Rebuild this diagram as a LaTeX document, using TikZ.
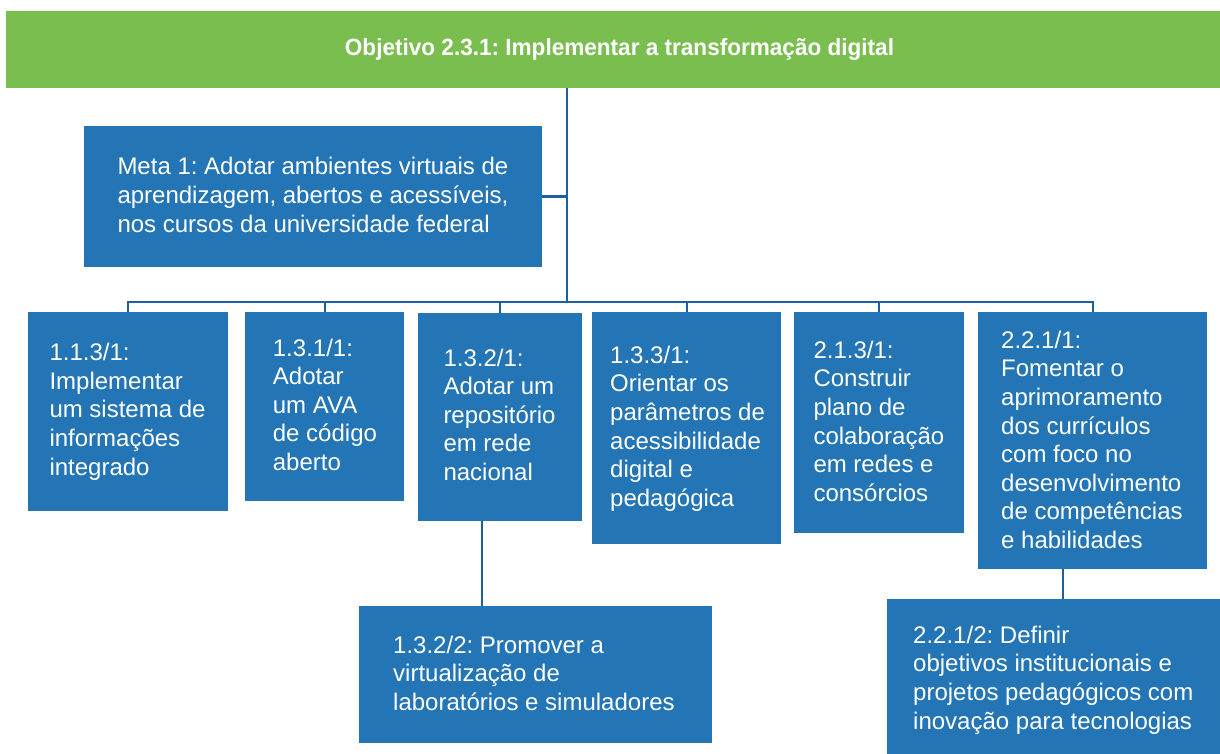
\documentclass[tikz,border=0pt]{standalone}
\usepackage{fontspec}
\setmainfont{Liberation Sans}
\newfontfamily\titlefont[FakeStretch=0.96]{Liberation Sans}
\definecolor{hdrgreen}{HTML}{7ABE50}
\definecolor{boxblue}{HTML}{2375B5}
\definecolor{linkblue}{HTML}{1D5FA0}
\newcommand{\tb}[1]{\parbox[t]{400pt}{\raggedright #1}}
\frenchspacing
\begin{document}
\begin{tikzpicture}[x=1pt,y=-1pt,
  box/.style={fill=boxblue, draw=none, inner sep=0pt, anchor=north west},
  txt/.style={text=white, inner sep=0pt, anchor=base west, font=\fontsize{24}{28.6}\selectfont},
  link/.style={draw=linkblue, line width=2.4pt}]
\useasboundingbox (0,0) rectangle (1220,754);
\fill[white] (0,0) rectangle (1220,754);
\node[fill=hdrgreen, inner sep=0pt, anchor=north west, minimum width=1214, minimum height=77] (hdr) at (6,11) {};
\node[text=white, font=\titlefont\bfseries\fontsize{23.5}{28}\selectfont, anchor=base, inner sep=0pt] (hdrt) at (619.5,56) {Objetivo 2.3.1: Implementar a transformação digital};

\node[box, minimum width=458, minimum height=141] (meta) at (84,126) {};
\node[box, minimum width=200, minimum height=199] (b1) at (28,312) {};
\node[box, minimum width=159, minimum height=189] (b2) at (245,312) {};
\node[box, minimum width=164, minimum height=208] (b3) at (418,313) {};
\node[box, minimum width=189, minimum height=232] (b4) at (592,312) {};
\node[box, minimum width=170, minimum height=221] (b5) at (794,312) {};
\node[box, minimum width=229, minimum height=257] (b6) at (978,312) {};
\node[box, minimum width=353, minimum height=137] (s1) at (359,606) {};
\node[box, minimum width=333, minimum height=155] (s2) at (887,599) {};

\node[txt] (metat) at (117.3,175) {\tb{Meta 1: Adotar ambientes virtuais de\\aprendizagem, abertos e acessíveis,\\nos cursos da universidade federal}};
\node[txt] (b1t) at (49.3,360.7) {\tb{1.1.3/1:\\Implementar\\um sistema de\\informações\\integrado}};
\node[txt] (b2t) at (272.7,356) {\tb{1.3.1/1:\\Adotar\\um AVA\\de código\\aberto}};
\node[txt] (b3t) at (443.3,366) {\tb{1.3.2/1:\\Adotar um\\repositório\\em rede\\nacional}};
\node[txt] (b4t) at (610,363.3) {\tb{1.3.3/1:\\Orientar os\\parâmetros de\\acessibilidade\\digital e\\pedagógica}};
\node[txt] (b5t) at (813.3,358.3) {\tb{2.1.3/1:\\Construir\\plano de\\colaboração\\em redes e\\consórcios}};
\node[txt] (b6t) at (1001,348.3) {\tb{2.2.1/1:\\Fomentar o\\aprimoramento\\dos currículos\\com foco no\\desenvolvimento\\de competências\\e habilidades}};
\node[txt] (s1t) at (393,653) {\tb{1.3.2/2: Promover a\\virtualização de\\laboratórios e simuladores}};
\node[txt] (s2t) at (913,643.3) {\tb{2.2.1/2: Definir\\objetivos institucionais e\\projetos pedagógicos com\\inovação para tecnologias}};

\coordinate (bus) at (567,302);
\draw[link] (hdr.south -| bus) -- (bus);
\draw[link] (meta.east) -- (meta.east -| bus);
\draw[link, line cap=rect] (b1.north |- bus) -- (b6.north |- bus);
\foreach \b in {b1,b2,b3,b4,b5,b6}{
  \draw[link] (\b.north |- bus) -- (\b.north);
}
\draw[link] ([xshift=-18pt]b3.south) -- ([xshift=-18pt]b3.south |- s1.north);
\draw[link] ([xshift=-29.5pt]b6.south) -- ([xshift=-29.5pt]b6.south |- s2.north);
\end{tikzpicture}
\end{document}
